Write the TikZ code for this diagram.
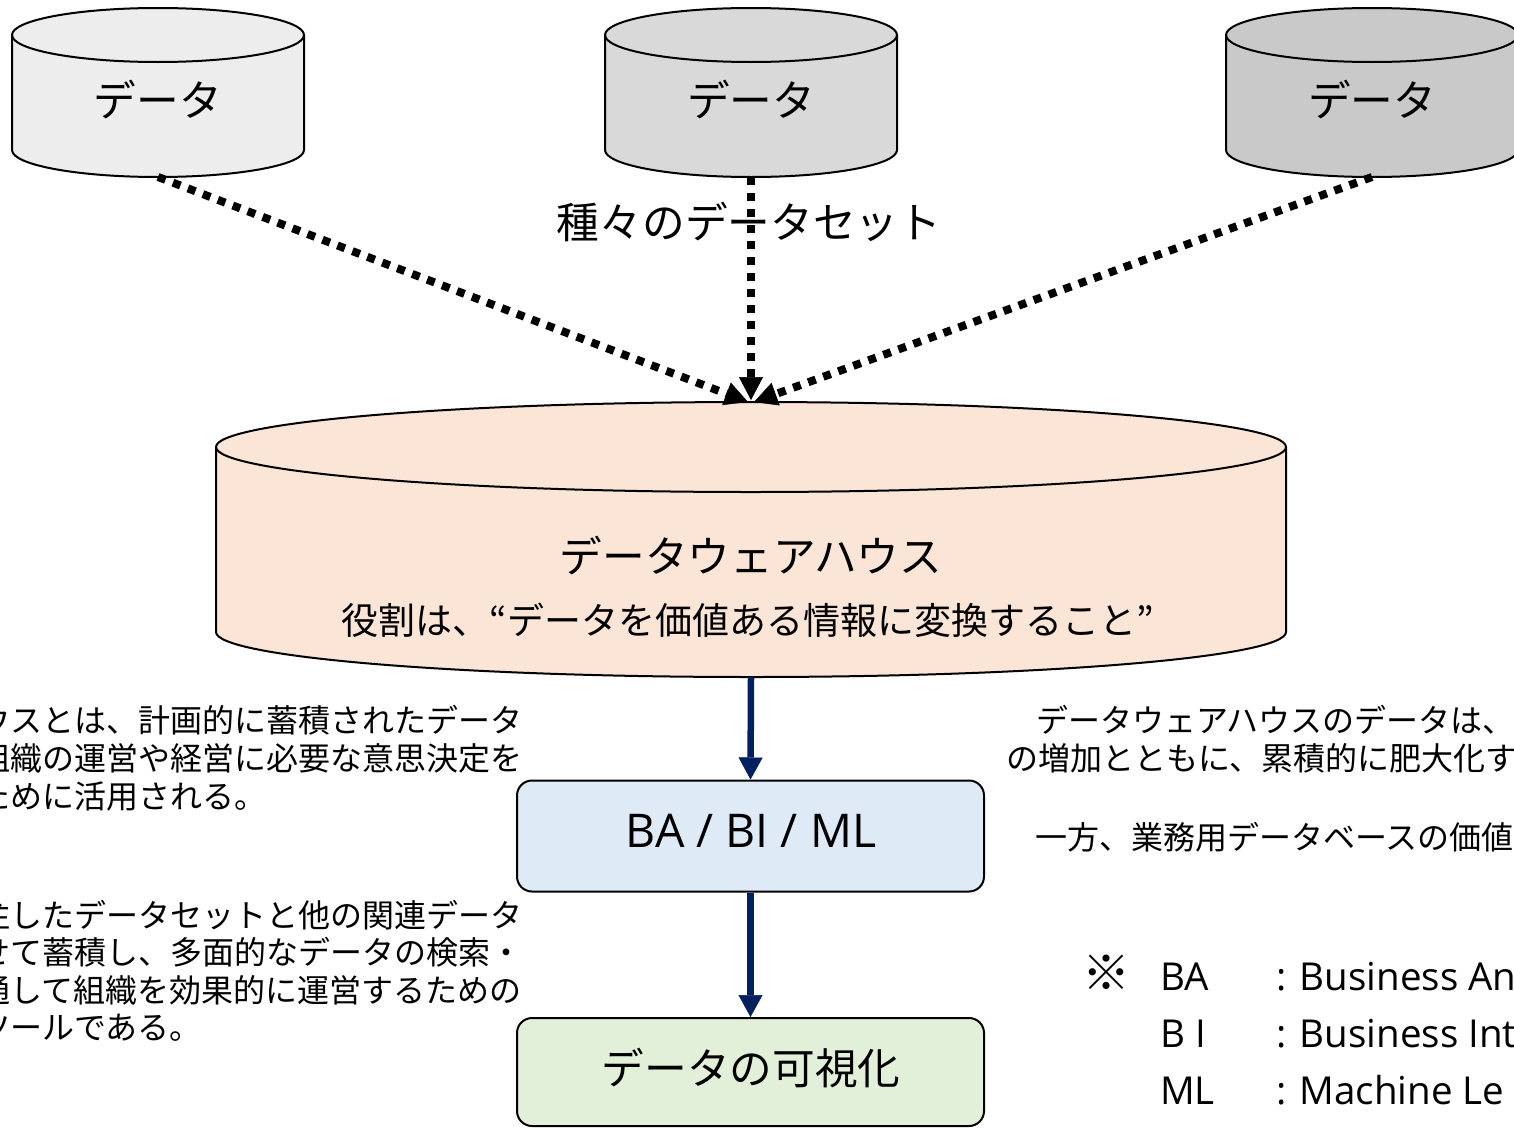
\documentclass[tikz,border=0pt]{standalone}
\usepackage{fontspec}
\setmainfont{Noto Sans CJK JP}
\newfontfamily\latfont{Open Sans}
\usetikzlibrary{arrows.meta}
\definecolor{gone}{HTML}{EDEDED}
\definecolor{gtwo}{HTML}{D9D9D9}
\definecolor{gthree}{HTML}{C9C9C9}
\definecolor{peach}{HTML}{FBE5D6}
\definecolor{lblue}{HTML}{DEEBF7}
\definecolor{lgreen}{HTML}{E2F0D9}
\definecolor{navy}{HTML}{002060}
\begin{document}
\begin{tikzpicture}[x=1pt,y=-1pt,
  outline/.style={draw=black,line width=2pt},
  anchorbox/.style={inner sep=0pt,outer sep=0pt,draw=none},
  dotarrow/.style={draw=black,line width=8pt,dash pattern=on 8pt off 8pt,
    -{Triangle[length=23pt,width=24pt,line width=0.5pt]}},
  navyarrow/.style={draw=navy,line width=6.5pt,
    -{Triangle[length=22pt,width=24pt,line width=0.5pt]}},
  big/.style={font=\fontsize{42.67}{50}\selectfont,inner sep=0pt},
  mid/.style={font=\fontsize{37}{44}\selectfont,inner sep=0pt},
  body/.style={font=\fontsize{32}{38}\selectfont,inner sep=0pt,anchor=west},
  legend/.style={font=\latfont\fontsize{38.5}{46}\selectfont,inner sep=0pt,anchor=base west},
  roundbox/.style={outline,rounded corners=15pt,minimum width=467pt,inner sep=0pt},
]
\useasboundingbox (0,0) rectangle (1514,1127);
\clip (0,0) rectangle (1514,1127);

% data cylinders
\filldraw[outline,fill=gone] (12,35) -- (12,150) arc[start angle=180,end angle=0,x radius=146,y radius=27] -- (304,35) arc[start angle=0,end angle=-180,x radius=146,y radius=27] -- cycle;
\draw[outline] (12,35) arc[start angle=180,end angle=0,x radius=146,y radius=27];
\node[anchorbox,minimum width=292pt,minimum height=169pt] (d1) at (158,92.5) {};
\node[big] (t1) at (158,100) {データ};

\filldraw[outline,fill=gtwo] (605,35) -- (605,150) arc[start angle=180,end angle=0,x radius=146,y radius=27] -- (897,35) arc[start angle=0,end angle=-180,x radius=146,y radius=27] -- cycle;
\draw[outline] (605,35) arc[start angle=180,end angle=0,x radius=146,y radius=27];
\node[anchorbox,minimum width=292pt,minimum height=169pt] (d2) at (751,92.5) {};
\node[big] (t2) at (751,100) {データ};

\filldraw[outline,fill=gthree] (1226,35) -- (1226,150) arc[start angle=180,end angle=0,x radius=146,y radius=27] -- (1518,35) arc[start angle=0,end angle=-180,x radius=146,y radius=27] -- cycle;
\draw[outline] (1226,35) arc[start angle=180,end angle=0,x radius=146,y radius=27];
\node[anchorbox,minimum width=292pt,minimum height=169pt] (d3) at (1372,92.5) {};
\node[big] (t3) at (1372,100) {データ};

% data warehouse cylinder
\filldraw[outline,fill=peach] (216,447) -- (216,632) arc[start angle=180,end angle=0,x radius=535,y radius=45] -- (1286,447) arc[start angle=0,end angle=-180,x radius=535,y radius=45] -- cycle;
\draw[outline] (216,447) arc[start angle=180,end angle=0,x radius=535,y radius=45];
\node[anchorbox,minimum width=1070pt,minimum height=275pt] (dwh) at (751,539.5) {};
\node[big] (dwhtitle) at (751,556) {データウェアハウス};
\node[mid] (dwhrole) at (748,620) {役割は、“データを価値ある情報に変換すること”};

% dotted arrows
\node[big] (setlabel) at (749,222) {種々のデータセット};
\draw[dotarrow] (d1.south) -- ([xshift=-3pt]dwh.north);
\draw[dotarrow] (d3.south) -- ([xshift=3pt]dwh.north);
\draw[dotarrow] (d2.south) -- ([yshift=2pt]dwh.north);

% boxes
\node[roundbox,fill=lblue,minimum height=111pt] (ba) at (750.5,836) {};
\node[font=\latfont\fontsize{46.5}{54}\selectfont,inner sep=0pt] (batext) at (751,831) {BA / BI / ML};
\node[roundbox,fill=lgreen,minimum height=108pt] (vis) at (750.5,1072) {};
\node[big] (vistext) at (751,1068) {データの可視化};

\draw[navyarrow] (dwh.south) -- (ba.north);
\draw[navyarrow] (ba.south) -- (vis.north);

% left text
\node[body] (l1) at (-22,720) {ウスとは、計画的に蓄積されたデータ};
\node[body] (l2) at (-22,758) {組織の運営や経営に必要な意思決定を};
\node[body] (l3) at (-22,796) {ために活用される。};
\node[body] (l4) at (-22,915) {注したデータセットと他の関連データ};
\node[body] (l5) at (-22,952.5) {せて蓄積し、多面的なデータの検索・};
\node[body] (l6) at (-22,990) {通して組織を効果的に運営するための};
\node[body] (l7) at (-22,1027.5) {ツールである。};

% right text
\node[body] (r1) at (1036,720) {データウェアハウスのデータは、};
\node[body] (r2) at (1006,758) {の増加とともに、累積的に肥大化す};
\node[body] (r3) at (1035,837) {一方、業務用データベースの価値};

% legend
\node[font=\fontsize{48}{54}\selectfont,inner sep=0pt] (kome) at (1106,973) {※};
\node[legend] (ba1) at (1160,990) {BA};
\node[legend] (ba2) at (1276,990) {: Business An};
\node[legend] (bi1) at (1160,1047) {B I};
\node[legend] (bi2) at (1276,1047) {: Business Int};
\node[legend] (ml1) at (1160,1104) {ML};
\node[legend] (ml2) at (1276,1104) {: Machine Le};
\end{tikzpicture}
\end{document}
